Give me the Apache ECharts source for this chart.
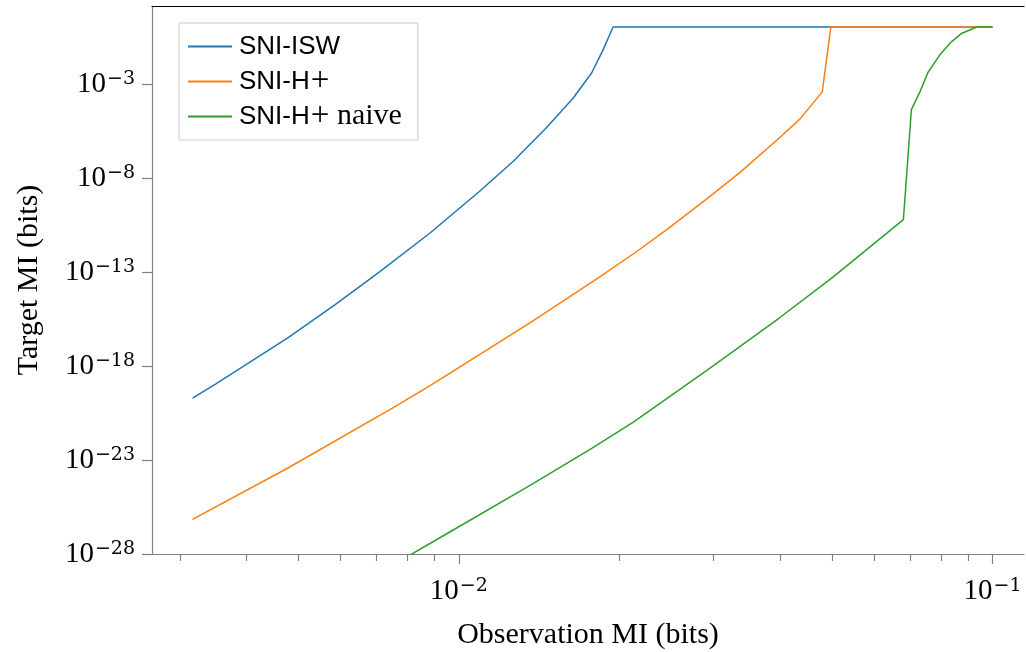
<!DOCTYPE html>
<html>
<head>
<meta charset="utf-8">
<script src="https://cdn.jsdelivr.net/npm/echarts@6/dist/echarts.min.js"></script>
<style>
html, body { margin: 0; padding: 0; background: #fff; }
#main { width: 1026px; height: 652px; }
</style>
</head>
<body>
<div id="main"></div>
<script>
// every value here is log10 of the quantity in bits
const iswX = [-2.499, -2.456, -2.322, -2.235, -2.148, -2.054, -1.961, -1.898, -1.836, -1.786, -1.751, -1.730, -1.711, -1.0];
const iswY = [-19.70, -18.96, -16.53, -14.80, -12.97, -10.92, -8.70, -7.10, -5.32, -3.75, -2.39, -1.19, 0.04, 0.04];

const hplusX = [-2.499, -2.322, -2.122, -2.054, -1.986, -1.861, -1.736, -1.666, -1.611, -1.536, -1.473, -1.399, -1.361, -1.319, -1.303, -1.0];
const hplusY = [-26.16, -23.45, -20.20, -19.04, -17.83, -15.59, -13.25, -11.89, -10.75, -9.12, -7.69, -5.85, -4.86, -3.41, 0.04, 0.04];

const naiveX = [-2.111, -2.091, -2.017, -1.861, -1.751, -1.673, -1.530, -1.399, -1.299, -1.167, -1.152, -1.136, -1.121, -1.099, -1.077, -1.058, -1.030, -1.0];
const naiveY = [-28.40, -28.05, -26.83, -24.25, -22.38, -20.98, -18.12, -15.43, -13.27, -10.21, -4.35, -3.41, -2.38, -1.45, -0.745, -0.30, 0.04, 0.04];

const yTicks = [-28, -23, -18, -13, -8, -3];
const xTicks = [-2, -1];
const xMinorTicks = [0.003, 0.004, 0.005, 0.006, 0.007, 0.008, 0.009,
                     0.02, 0.03, 0.04, 0.05, 0.06, 0.07, 0.08, 0.09];

const pair = (xs, ys) => xs.map((x, i) => [x, ys[i]]);

const gray = '#808080';
const serif = 'Liberation Serif';
const powRich = {
    b: { fontFamily: serif, fontSize: 29, lineHeight: 29, color: '#000', verticalAlign: 'bottom' },
    s: { fontFamily: 'DejaVu Serif', fontSize: 19, lineHeight: 19, color: '#000', verticalAlign: 'top', padding: [0, 0, 12, 1] }
};
const powLabel = v => '{b|10}{s|' + (v < 0 ? '\u2212' : '') + Math.abs(v) + '}';

const chart = echarts.init(document.getElementById('main'), null, { renderer: 'canvas' });

const xRange = { min: -2.575, max: -0.941 };

const option = {
    animation: false,
    backgroundColor: '#fff',
    color: ['#1f77b4', '#ff7f0e', '#2ca02c'],
    grid: { left: 152, right: 2, top: 6, bottom: 98, containLabel: false, outerBoundsMode: 'none' },
    legend: {
        orient: 'vertical',
        left: 179,
        top: 23,
        padding: [6, 16, 6, 9],
        itemGap: 0,
        itemWidth: 44,
        itemHeight: 2,
        icon: 'rect',
        backgroundColor: '#fff',
        borderColor: '#cccccc',
        borderWidth: 1,
        formatter: function (name) {
            if (name === 'SNI-H+') {
                return '{sa|SNI-H}{pl|+}';
            }
            if (name === 'SNI-H+ naive') {
                return '{sa|SNI-H}{pl|+}{se| naive}';
            }
            return '{sa|' + name + '}';
        },
        textStyle: {
            fontFamily: serif,
            fontSize: 30,
            color: '#000',
            padding: [0, 0, 0, 2],
            lineHeight: 35,
            rich: {
                sa: { fontFamily: 'Liberation Sans', fontSize: 26, lineHeight: 35, color: '#000' },
                pl: { fontFamily: serif, fontSize: 33, lineHeight: 35, color: '#000', padding: [0, 0, 0, 1] },
                se: { fontFamily: serif, fontSize: 30, lineHeight: 35, color: '#000' }
            }
        }
    },
    xAxis: [
        {
            type: 'value',
            min: xRange.min,
            max: xRange.max,
            position: 'bottom',
            name: 'Observation MI (bits)',
            nameLocation: 'middle',
            nameGap: 66,
            nameTextStyle: { fontFamily: serif, fontSize: 30, color: '#000' },
            axisLine: { show: true, onZero: false, lineStyle: { color: gray, width: 1.2 } },
            axisTick: { show: true, customValues: xTicks, length: 10, lineStyle: { color: gray, width: 1.2 } },
            axisLabel: { customValues: xTicks, margin: 23, formatter: powLabel, rich: powRich },
            splitLine: { show: false }
        },
        {
            type: 'value',
            min: xRange.min,
            max: xRange.max,
            position: 'bottom',
            axisLine: { show: false, onZero: false },
            axisTick: { show: true, customValues: xMinorTicks.map(Math.log10), length: 7, lineStyle: { color: gray, width: 1.2 } },
            axisLabel: { show: false },
            splitLine: { show: false }
        },
        {
            type: 'value',
            min: xRange.min,
            max: xRange.max,
            position: 'top',
            axisLine: { show: true, onZero: false, lineStyle: { color: '#000', width: 1.2 } },
            axisTick: { show: false },
            axisLabel: { show: false },
            splitLine: { show: false }
        }
    ],
    yAxis: {
        type: 'value',
        min: -28,
        max: 1.16,
        name: 'Target MI (bits)',
        nameLocation: 'middle',
        nameGap: 108,
        nameTextStyle: { fontFamily: serif, fontSize: 30, color: '#000' },
        axisLine: { show: true, onZero: false, lineStyle: { color: gray, width: 1.2 } },
        axisTick: { show: true, customValues: yTicks, length: 10, lineStyle: { color: gray, width: 1.2 } },
        axisLabel: { customValues: yTicks, margin: 17, formatter: powLabel, rich: powRich },
        splitLine: { show: false }
    },
    series: [
        {
            name: 'SNI-ISW',
            type: 'line',
            showSymbol: false,
            lineStyle: { width: 1.5 },
            data: pair(iswX, iswY)
        },
        {
            name: 'SNI-H+',
            type: 'line',
            showSymbol: false,
            lineStyle: { width: 1.5 },
            data: pair(hplusX, hplusY)
        },
        {
            name: 'SNI-H+ naive',
            type: 'line',
            showSymbol: false,
            lineStyle: { width: 1.5 },
            data: pair(naiveX, naiveY)
        }
    ]
};

chart.setOption(option);
</script>
</body>
</html>
